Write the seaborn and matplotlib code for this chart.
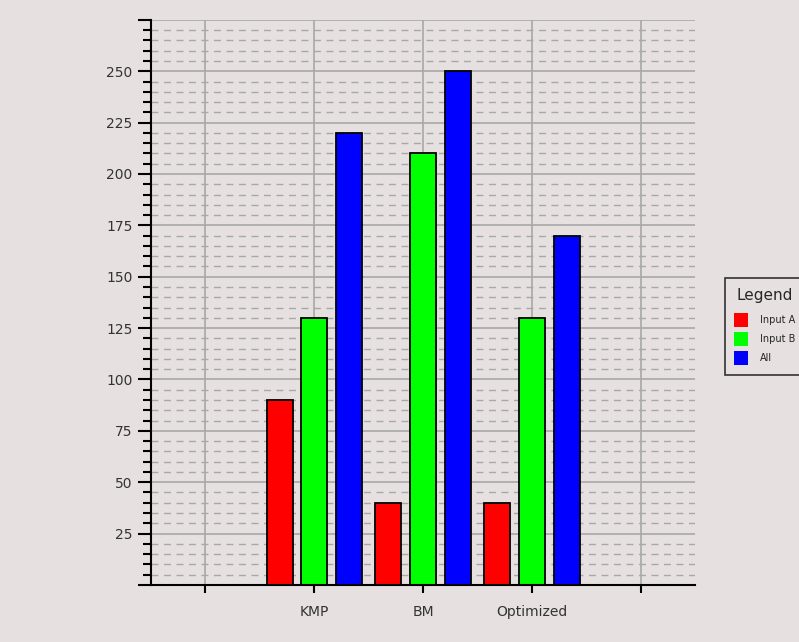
import numpy as np
import pandas as pd
import seaborn as sns
import matplotlib
matplotlib.use("Agg")
import matplotlib.pyplot as plt
from matplotlib.ticker import MultipleLocator
from matplotlib.patches import Patch

# data
algorithms = ["KMP", "BM", "Optimized"]
input_a = [90, 40, 40]
input_b = [130, 210, 130]
all_inputs = [220, 250, 170]
series = ["Input A", "Input B", "All"]
colors = ["#ff0000", "#00ff00", "#0000ff"]
# empty slots on both sides of the category axis
slots = [" ", "KMP", "BM", "Optimized", "  "]
y_ticks = list(range(0, 300, 25))
y_labels = ["" if v in (0, 275) else str(v) for v in y_ticks]

df = pd.DataFrame({
    "algorithm": algorithms * 3,
    "series": [series[0]] * 3 + [series[1]] * 3 + [series[2]] * 3,
    "value": input_a + input_b + all_inputs,
})

bg = "#e6e0e0"
sns.set_style("ticks")
plt.rcParams["font.family"] = ["DejaVu Sans"]

fig = plt.figure(figsize=(7.99, 6.42), dpi=100, facecolor=bg)
ax = fig.add_axes([0.189, 0.089, 0.681, 0.880])
ax.set_facecolor(bg)

sns.barplot(data=df, x="algorithm", y="value", hue="series", order=slots,
            hue_order=series, palette=colors, width=0.955, gap=0.25,
            edgecolor="black", linewidth=1.3, saturation=1, ax=ax, legend=False)

ax.set_xlim(-0.5, 4.5)
ax.yaxis.set_minor_locator(MultipleLocator(5))
ax.set_yticks(y_ticks)
ax.set_yticklabels(y_labels)
ax.set_ylim(0, 275)

ax.grid(True, which="major", axis="both", color="#a8a8a8", linewidth=1.2, linestyle="-")
ax.grid(True, which="minor", axis="y", color="#a8a8a8", linewidth=1.0, linestyle=(0, (5, 4)))
ax.set_axisbelow(True)

for s in ["top", "right"]:
    ax.spines[s].set_visible(False)
for s in ["left", "bottom"]:
    ax.spines[s].set_color("black")
    ax.spines[s].set_linewidth(1.5)

ax.tick_params(axis="y", which="major", left=True, direction="out", length=9.4, width=1.5,
               color="black", labelsize=10, labelcolor="#333333", pad=4)
ax.tick_params(axis="y", which="minor", left=True, direction="out", length=6, width=1.5,
               color="black")
ax.tick_params(axis="x", which="major", bottom=True, direction="out", length=5.8, width=1.5,
               color="black", labelsize=10, labelcolor="#333333", pad=8.5)
ax.tick_params(axis="x", which="minor", bottom=False)
ax.set_xlabel("")
ax.set_ylabel("")

handles = [Patch(facecolor=c, edgecolor="none") for c in colors]
leg = fig.legend(handles, series, title="Legend", loc="upper left",
                 bbox_to_anchor=(0.907, 0.567), borderaxespad=0, fontsize=7,
                 title_fontsize=11, frameon=True, fancybox=False, edgecolor="#333333",
                 facecolor=bg, framealpha=1, handlelength=1.44, handleheight=1.84,
                 handletextpad=1.23, borderpad=1.0, labelspacing=0.5)
leg.get_frame().set_linewidth(1.2)
# a bit more room between the legend title and its entries
leg._legend_box.sep = 7.5

fig.savefig("out.png", dpi=100, facecolor=bg)
